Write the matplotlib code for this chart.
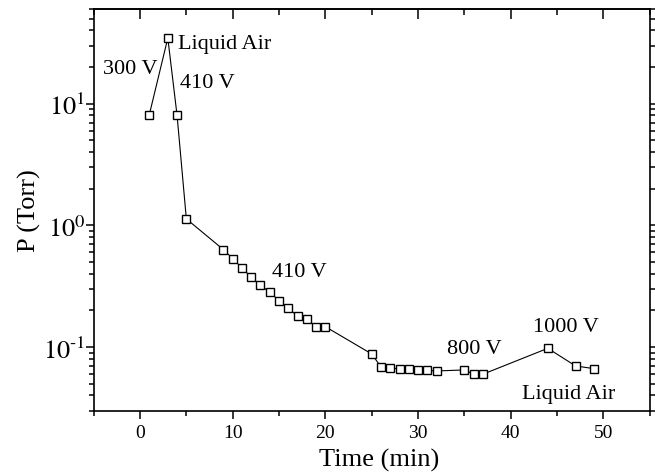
import numpy as np
import matplotlib
matplotlib.use("Agg")
import matplotlib.pyplot as plt
from matplotlib.ticker import MultipleLocator, LogLocator, NullFormatter, FuncFormatter

plt.rcParams['font.family'] = ['Liberation Serif', 'DejaVu Serif']
plt.rcParams['mathtext.fontset'] = 'stix'

# pressure log
time_min = [1, 3, 4, 5, 9, 10, 11, 12, 13, 14, 15, 16, 17, 18, 19, 20,
            25, 26, 27, 28, 29, 30, 31, 32, 35, 36, 37, 44, 47, 49]
pressure = [8.1, 34.6, 8.0, 1.13, 0.632, 0.533, 0.447, 0.375, 0.322, 0.282,
            0.241, 0.209, 0.179, 0.169, 0.147, 0.147,
            0.0877, 0.0686, 0.0673, 0.066, 0.0654, 0.0648, 0.0642, 0.0636,
            0.0648, 0.0598, 0.0598, 0.0976, 0.0699, 0.0664]

# annotations: text, x, y, horizontal alignment
notes = [("300 V", -1.0, 19.4, 'center'),
         ("Liquid Air", 4.1, 31.0, 'left'),
         ("410 V", 4.3, 14.9, 'left'),
         ("410 V", 14.2, 0.42, 'left'),
         ("800 V", 36.1, 0.0976, 'center'),
         ("1000 V", 46.0, 0.147, 'center'),
         ("Liquid Air", 41.2, 0.0417, 'left')]

fig = plt.figure(figsize=(6.55, 4.77), dpi=100)
ax = fig.add_axes([0.143, 0.137, 0.849, 0.842])

ax.plot(time_min, pressure, '-', color='black', lw=0.8,
        marker='s', ms=5.5, mfc='white', mec='black', mew=1.0)

for txt, x, y, ha in notes:
    ax.text(x, y, txt, ha=ha, va='center', fontsize=16)

ax.set_yscale('log')
ax.set_xlim(-5, 55)
ax.set_ylim(0.03, 60)

ax.xaxis.set_major_locator(MultipleLocator(10))
ax.xaxis.set_minor_locator(MultipleLocator(5))
ax.yaxis.set_major_locator(LogLocator(base=10))
ax.yaxis.set_minor_locator(LogLocator(base=10, subs=np.arange(2, 10)))
ax.yaxis.set_minor_formatter(NullFormatter())


def pow_label(v, pos):
    e = int(round(np.log10(v)))
    if e < 0:
        return r'$10^{\text{-}%d}$' % (-e)
    return r'$10^{%d}$' % e


ax.yaxis.set_major_formatter(FuncFormatter(pow_label))

ax.tick_params(axis='both', which='both', direction='out', width=1.1)
ax.tick_params(axis='x', labelsize=14)
ax.tick_params(axis='y', labelsize=19, pad=0)
ax.tick_params(axis='both', which='major', length=6)
ax.tick_params(axis='both', which='minor', length=3.5)
ax.tick_params(axis='y', which='both', right=True, labelright=False)

# top axis: same ticks, pointing into the plot
top = ax.secondary_xaxis('top')
top.xaxis.set_major_locator(MultipleLocator(10))
top.xaxis.set_minor_locator(MultipleLocator(5))
top.tick_params(axis='x', which='both', direction='in', labeltop=False, width=1.1)
top.tick_params(axis='x', which='major', length=7)
top.tick_params(axis='x', which='minor', length=4)

for sp in list(ax.spines.values()) + list(top.spines.values()):
    sp.set_linewidth(1.2)

ax.set_xlabel('Time (min)', fontsize=19)
ax.set_ylabel('P (Torr)', fontsize=19)
ax.yaxis.set_label_coords(-0.095, 0.5)
ax.xaxis.set_label_coords(0.513, -0.093)

fig.savefig('out.png', dpi=100)
